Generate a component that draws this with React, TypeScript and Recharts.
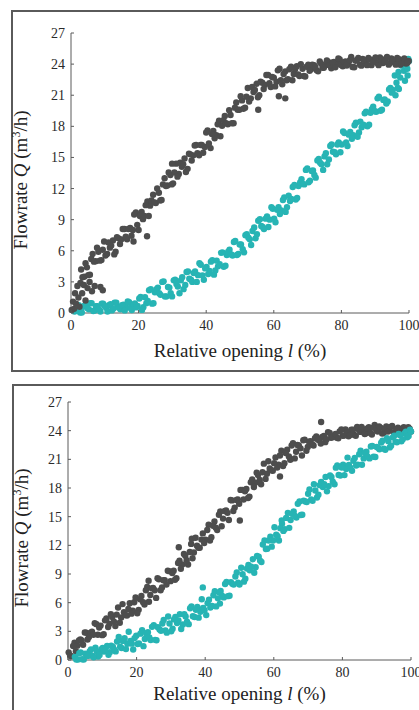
import React from 'react';
import { ScatterChart, Scatter, XAxis, YAxis } from 'recharts';

const openingTicks = [0, 20, 40, 60, 80, 100];
const flowTicks = [0, 3, 6, 9, 12, 15, 18, 21, 24, 27];

// Top panel – dark (upper) series [opening %, flowrate m3/h]
const topDark: [number, number][] = [
  [0.2, 0.3], [0.6, 1.1], [0.9, 0.4], [1.2, 1.9], [1.5, 0.9], [1.9, 2.6], [2.2, 1.5], [2.5, 0.6], [2.8, 2.9],
  [3.3, 1.9], [3.8, 2.7], [4.3, 1.2], [4.9, 2.4], [5.5, 3.0], [6.2, 2.1], [7.0, 2.6], [8.7, 2.5], [9.4, 2.2],
  [3.0, 4.2], [3.9, 3.5], [4.7, 4.4], [5.6, 3.7], [6.4, 5.7], [7.3, 5.0], [8.1, 5.9], [9.0, 5.1], [9.8, 6.9],
  [10.7, 5.7], [11.5, 6.3], [12.4, 7.0], [13.2, 5.9], [14.1, 7.2], [14.9, 7.1], [15.8, 8.1], [16.6, 7.1],
  [17.5, 8.2], [18.3, 8.0], [19.2, 9.7], [20.0, 8.0], [20.9, 9.75], [21.7, 9.35], [22.6, 10.75], [23.4, 10.35],
  [24.3, 11.4], [25.1, 10.6], [26.0, 11.6], [26.8, 10.9], [27.7, 13.0], [28.5, 12.3], [29.4, 13.3], [30.2, 12.5],
  [31.1, 14.4], [31.9, 13.4], [32.8, 14.1], [33.6, 14.9], [34.5, 13.9], [35.3, 15.3], [36.2, 15.2], [37.0, 16.2],
  [37.9, 15.2], [38.7, 16.2], [39.6, 16.0], [40.4, 17.6], [41.3, 15.9], [42.1, 17.55], [43.0, 17.15], [43.8, 18.55],
  [44.7, 18.05], [45.5, 19.0], [46.4, 18.2], [47.2, 19.1], [48.1, 18.3], [48.9, 20.3], [49.8, 19.6], [50.6, 20.5],
  [51.5, 19.8], [52.3, 21.7], [53.2, 20.7], [54.0, 21.3], [54.9, 22.1], [55.7, 21.0], [56.6, 22.2], [57.4, 22.0],
  [58.3, 22.95], [59.1, 21.8], [60.0, 22.7], [60.8, 22.3], [61.7, 23.55], [62.5, 22.05], [63.4, 23.3], [64.2, 22.55],
  [65.1, 23.75], [65.9, 23.05], [66.8, 23.8], [67.6, 22.85], [68.5, 23.55], [69.3, 22.8], [70.2, 23.95], [71.0, 23.5],
  [71.9, 23.9], [72.7, 23.4], [73.6, 24.25], [74.4, 23.65], [75.3, 23.9], [76.1, 24.2], [77.0, 23.6], [77.8, 24.2],
  [78.7, 24.0], [79.5, 24.45], [80.4, 23.8], [81.2, 24.25], [82.1, 24.0], [82.9, 24.7], [83.8, 23.7], [84.6, 24.4],
  [85.5, 23.95], [86.3, 24.5], [87.2, 24.1], [88.0, 24.6], [88.9, 23.9], [89.7, 24.45], [90.6, 24.1], [91.4, 24.65],
  [92.3, 24.1], [93.1, 24.5], [94.0, 23.95], [94.8, 24.55], [95.7, 24.2], [96.5, 24.6], [97.4, 23.95], [98.2, 24.4],
  [99.1, 24.05], [99.9, 24.3],
  [22.5, 7.4], [29.9, 14.4], [55.4, 19.6], [63.4, 20.7], [61.5, 20.9], [18.5, 6.9],
  [3.4, 3.45], [4.3, 4.8], [5.1, 3.65], [6.0, 5.2], [6.8, 4.95], [7.7, 6.3], [8.5, 5.05], [9.4, 6.1], [10.2, 5.55],
  [11.1, 6.8], [11.9, 6.5], [12.8, 5.65], [13.6, 7.3], [14.5, 6.65], [15.3, 8.1], [16.2, 7.35], [17.0, 8.1],
  [17.9, 7.45], [18.7, 9.5], [19.6, 8.5], [20.4, 9.35], [21.3, 9.05], [22.1, 10.4], [23.0, 9.35], [23.8, 10.85],
  [24.7, 10.65], [25.5, 12.0], [26.4, 10.85], [27.2, 12.4], [28.1, 12.25], [28.9, 13.55], [29.8, 12.4], [30.6, 13.55],
  [31.5, 13.15], [32.3, 14.5], [33.2, 14.35], [34.0, 13.6], [34.9, 15.35], [35.7, 14.7], [36.6, 16.15], [37.4, 15.4],
  [38.3, 16.2], [39.1, 15.45], [40.0, 17.4], [40.8, 16.35], [41.7, 17.25], [42.5, 16.85], [43.4, 18.2], [44.2, 17.05],
  [45.1, 18.6], [45.9, 18.3], [46.8, 19.55], [47.6, 18.3], [48.5, 19.8], [49.3, 19.6], [50.2, 20.9], [51.0, 19.7],
  [51.9, 20.85], [52.7, 20.4], [53.6, 21.8], [54.4, 21.5], [55.3, 20.8], [56.1, 22.3], [57.0, 21.6], [57.8, 22.95],
  [58.7, 22.15], [59.5, 22.75], [60.4, 21.85], [61.2, 23.4], [62.1, 22.45], [62.9, 23.05], [63.8, 22.45], [64.6, 23.5],
  [65.5, 22.45], [66.3, 23.5], [67.2, 23.0], [68.0, 24.0], [68.9, 22.85], [69.7, 23.75], [70.6, 23.35], [71.4, 23.95],
  [72.3, 23.75], [73.1, 23.3], [74.0, 24.05], [74.8, 23.65], [75.7, 24.35], [76.5, 23.9], [77.4, 24.15], [78.2, 23.7],
  [79.1, 24.55], [79.9, 23.92], [80.8, 24.18], [81.6, 23.87], [82.5, 24.37], [83.3, 23.72], [84.2, 24.32], [85.0, 24.6],
  [85.9, 23.85], [86.7, 24.4], [87.6, 23.9], [88.4, 24.45], [89.3, 24.2], [90.1, 24.65], [91.0, 23.9], [91.8, 24.45],
  [92.7, 24.2], [93.5, 24.7], [94.4, 24.1], [95.2, 24.35], [96.1, 23.95], [96.9, 24.5], [97.8, 24.05], [98.6, 24.55],
  [99.5, 24.1],
];

// Top panel – teal (lower) series
const topTeal: [number, number][] = [
  [1.0, 0.15], [1.9, 0.75], [2.7, 0.05], [3.6, 0.6], [4.4, 0.75], [5.3, 0.35], [6.1, 0.95], [7.0, 0.25], [7.8, 0.65],
  [8.7, 0.15], [9.5, 0.9], [10.4, 0.5], [11.2, 0.75], [12.1, 0.25], [12.9, 1.0], [13.8, 0.6], [14.6, 0.35], [15.5, 0.8],
  [16.3, 0.55], [17.2, 1.03], [18.0, 0.28], [18.9, 0.92], [19.7, 0.67], [20.6, 1.55], [21.4, 0.55], [22.3, 0.95],
  [23.1, 2.2], [24.0, 0.9], [24.8, 2.0], [25.7, 2.45], [26.5, 1.75], [27.4, 3.05], [28.2, 1.6], [29.1, 2.45], [29.9, 1.6],
  [30.8, 3.2], [31.6, 2.55], [32.5, 3.15], [33.3, 2.3], [34.2, 3.95], [35.0, 3.3], [35.9, 3.0], [36.7, 4.0], [37.6, 3.65],
  [38.4, 4.65], [39.3, 3.2], [40.1, 4.45], [41.0, 4.05], [41.8, 5.1], [42.7, 4.1], [43.5, 4.5], [44.4, 5.8], [45.2, 4.45],
  [46.1, 5.6], [46.9, 6.1], [47.8, 5.55], [48.6, 6.95], [49.5, 5.7], [50.3, 6.6], [51.2, 5.85], [52.0, 7.6], [52.9, 7.1],
  [53.7, 7.9], [54.6, 7.2], [55.4, 8.9], [56.3, 8.4], [57.1, 8.1], [58.0, 9.3], [58.8, 9.0], [59.7, 10.05], [60.5, 8.75],
  [61.4, 10.2], [62.2, 9.9], [63.1, 11.15], [63.9, 10.2], [64.8, 10.8], [65.6, 12.15], [66.5, 10.95], [67.3, 12.25],
  [68.2, 12.9], [69.0, 12.4], [69.9, 13.95], [70.7, 12.75], [71.6, 13.75], [72.4, 13.05], [73.3, 14.85], [74.1, 14.35],
  [75.0, 15.1], [75.8, 14.35], [76.7, 16.1], [77.5, 15.55], [78.4, 15.3], [79.2, 16.45], [80.1, 16.25], [80.9, 17.35],
  [81.8, 16.1], [82.6, 17.45], [83.5, 17.15], [84.3, 18.35], [85.2, 17.4], [86.0, 17.9], [86.9, 19.25], [87.7, 18.0],
  [88.6, 19.3], [89.4, 19.9], [90.3, 19.4], [91.1, 20.85], [92.0, 19.6], [92.8, 20.6], [93.7, 20.4], [94.5, 21.7],
  [95.2, 21.5], [95.8, 22.9], [96.3, 22.2], [96.9, 23.25], [97.4, 22.7], [97.9, 23.85], [98.5, 23.35], [99.0, 24.1],
  [99.5, 23.55], [100.0, 24.3],
  [98.8, 22.4], [99.6, 22.9], [97.0, 21.6], [99.8, 24.5], [96.0, 21.0], [96.7, 21.7],
  [1.4, 0.2], [2.3, 0.75], [3.2, 0.05], [4.0, 0.7], [4.9, 0.45], [5.7, 0.95], [6.6, 0.2], [7.4, 0.65], [8.3, 0.35],
  [9.1, 0.9], [10.0, 0.65], [10.8, 0.15], [11.7, 0.85], [12.5, 0.4], [13.4, 1.0], [14.2, 0.5], [15.1, 0.75], [15.9, 0.25],
  [16.8, 1.12], [17.6, 0.49], [18.5, 0.83], [19.3, 0.54], [20.2, 1.4], [21.0, 0.3], [21.9, 1.53], [22.7, 1.15],
  [23.6, 2.3], [24.4, 0.95], [25.3, 2.3], [26.1, 1.9], [27.0, 3.0], [27.8, 1.6], [28.7, 2.5], [29.5, 1.92], [30.4, 3.15],
  [31.2, 2.8], [32.1, 1.9], [32.9, 3.45], [33.8, 2.7], [34.6, 4.0], [35.5, 3.2], [36.3, 3.85], [37.2, 3.0], [38.0, 4.8],
  [38.9, 3.63], [39.7, 4.3], [40.6, 3.75], [41.4, 4.95], [42.3, 3.7], [43.1, 5.05], [44.0, 4.7], [44.8, 5.85],
  [45.7, 4.55], [46.5, 5.9], [47.4, 5.65], [48.2, 6.85], [49.1, 5.6], [49.9, 6.6], [50.8, 6.15], [51.6, 7.5],
  [52.5, 7.25], [53.3, 6.55], [54.2, 8.25], [55.0, 7.6], [55.9, 9.05], [56.7, 8.3], [57.6, 9.1], [58.4, 8.3],
  [59.3, 10.2], [60.1, 9.1], [61.0, 9.95], [61.8, 9.55], [62.7, 10.9], [63.5, 9.75], [64.4, 11.3], [65.2, 11.0],
  [66.1, 12.35], [66.9, 11.1], [67.8, 12.6], [68.6, 12.45], [69.5, 13.8], [70.3, 12.6], [71.2, 13.7], [72.0, 13.3],
  [72.9, 14.7], [73.7, 14.5], [74.6, 13.8], [75.4, 15.4], [76.3, 14.8], [77.1, 16.25], [78.0, 15.5], [78.8, 16.25],
  [79.7, 15.5], [80.5, 17.5], [81.4, 16.45], [82.2, 17.2], [83.1, 16.8], [83.9, 18.1], [84.8, 17.0], [85.6, 18.45],
  [86.5, 18.15], [87.3, 19.4], [88.2, 18.15], [89.0, 19.65], [89.9, 19.45], [90.7, 20.7], [91.6, 19.5], [92.4, 20.55],
  [93.3, 20.2], [94.1, 21.55], [94.9, 21.25],
];

// Bottom panel – dark (upper) series
const bottomDark: [number, number][] = [
  [0.2, 0.8], [1.0, 0.4], [1.9, 1.8], [2.7, 1.5], [3.6, 2.15], [4.4, 1.6], [5.3, 2.85], [6.1, 2.4], [7.0, 2.95],
  [7.8, 3.85], [8.7, 2.65], [9.5, 3.6], [10.4, 2.7], [11.2, 4.35], [12.1, 3.8], [12.9, 4.5], [13.8, 3.55], [14.6, 5.5],
  [15.5, 4.45], [16.3, 5.0], [17.2, 4.65], [18.0, 5.95], [18.9, 5.15], [19.7, 6.55], [20.6, 5.25], [21.4, 6.7],
  [22.3, 5.8], [23.1, 7.65], [24.0, 6.8], [24.8, 7.55], [25.7, 6.5], [26.5, 8.45], [27.4, 7.6], [28.2, 8.35],
  [29.1, 9.35], [29.9, 8.25], [30.8, 9.35], [31.6, 8.55], [32.5, 10.4], [33.3, 10.0], [34.2, 10.9], [35.0, 10.0],
  [35.9, 12.15], [36.7, 11.25], [37.6, 11.95], [38.4, 11.75], [39.3, 13.25], [40.1, 12.6], [41.0, 14.15], [41.8, 12.85],
  [42.7, 14.5], [43.5, 13.6], [44.4, 15.55], [45.2, 14.8], [46.1, 15.65], [46.9, 14.65], [47.8, 16.7], [48.6, 15.95],
  [49.5, 16.8], [50.3, 17.8], [51.2, 16.8], [52.0, 17.9], [52.9, 17.1], [53.7, 18.9], [54.6, 18.55], [55.4, 19.35],
  [56.3, 18.4], [57.1, 20.55], [58.0, 19.5], [58.8, 20.05], [59.7, 19.8], [60.5, 21.2], [61.4, 20.45], [62.2, 21.9],
  [63.1, 20.6], [63.9, 22.0], [64.8, 20.95], [65.6, 22.7], [66.5, 21.8], [67.3, 22.45], [68.2, 21.4], [69.0, 23.05],
  [69.9, 22.3], [70.7, 22.9], [71.6, 22.45], [72.4, 23.4], [73.3, 23.0], [74.1, 23.35], [75.0, 22.8], [75.8, 23.85],
  [76.7, 23.25], [77.5, 23.45], [78.4, 23.25], [79.2, 23.93], [80.1, 23.47], [80.9, 24.13], [81.8, 23.42], [82.6, 24.1],
  [83.5, 23.55], [84.3, 24.4], [85.2, 23.87], [86.0, 24.15], [86.9, 23.72], [87.7, 24.35], [88.6, 23.6], [89.4, 24.6],
  [90.3, 23.9], [91.1, 24.3], [92.0, 23.75], [92.8, 24.45], [93.7, 24.05], [94.5, 24.5], [95.4, 23.67], [96.2, 24.3],
  [97.1, 23.77], [97.9, 24.35], [98.8, 23.7], [99.6, 24.2],
  [73.8, 24.9], [61.8, 19.2], [50.1, 14.6], [32.3, 11.8], [36.1, 12.7], [23.5, 8.3],
  [0.6, 0.47], [1.5, 1.47], [2.3, 0.92], [3.2, 2.04], [4.0, 2.05], [4.9, 2.89], [5.7, 2.14], [6.6, 2.87], [7.4, 2.65],
  [8.3, 3.75], [9.1, 3.4], [10.0, 2.6], [10.8, 4.15], [11.7, 3.45], [12.5, 4.8], [13.4, 4.0], [14.2, 4.75], [15.1, 3.9],
  [15.9, 5.85], [16.8, 4.7], [17.6, 5.35], [18.5, 4.85], [19.3, 6.05], [20.2, 4.9], [21.0, 6.35], [21.9, 6.05],
  [22.7, 7.3], [23.6, 6.1], [24.4, 7.5], [25.3, 7.3], [26.1, 8.55], [27.0, 7.3], [27.8, 8.35], [28.7, 7.9], [29.5, 9.3],
  [30.4, 9.1], [31.2, 8.4], [32.1, 10.15], [32.9, 9.55], [33.8, 11.1], [34.6, 10.45], [35.5, 11.3], [36.3, 10.65],
  [37.2, 12.8], [38.0, 11.75], [38.9, 12.6], [39.7, 12.25], [40.6, 13.6], [41.4, 12.5], [42.3, 14.05], [43.1, 13.85],
  [44.0, 15.2], [44.8, 14.0], [45.7, 15.6], [46.5, 15.4], [47.4, 16.75], [48.2, 15.6], [49.1, 16.75], [49.9, 16.35],
  [50.8, 17.8], [51.6, 17.65], [52.5, 16.95], [53.3, 18.6], [54.2, 18.1], [55.0, 19.6], [55.9, 18.85], [56.7, 19.65],
  [57.6, 18.95], [58.4, 20.8], [59.3, 19.85], [60.1, 20.6], [61.0, 20.15], [61.8, 21.4], [62.7, 20.3], [63.5, 21.65],
  [64.4, 21.3], [65.2, 22.45], [66.1, 21.1], [66.9, 22.5], [67.8, 22.15], [68.6, 23.0], [69.5, 21.9], [70.3, 22.85],
  [71.2, 22.55], [72.0, 23.2], [72.9, 23.05], [73.7, 22.65], [74.6, 23.45], [75.4, 23.1], [76.3, 23.75], [77.1, 23.32],
  [78.0, 23.65], [78.8, 23.2], [79.7, 24.12], [80.5, 23.5], [81.4, 23.83], [82.2, 23.54], [83.1, 24.1], [83.9, 23.46],
  [84.8, 24.09], [85.6, 24.4], [86.5, 23.65], [87.3, 24.23], [88.2, 23.75], [89.0, 24.32], [89.9, 24.05], [90.7, 24.45],
  [91.6, 23.7], [92.4, 24.2], [93.3, 23.9], [94.1, 24.4], [95.0, 23.83], [95.8, 24.11], [96.7, 23.68], [97.5, 24.21],
  [98.4, 23.8], [99.2, 24.35], [100.0, 23.9],
];

// Bottom panel – teal (lower) series
const bottomTeal: [number, number][] = [
  [2.0, 0.33], [2.9, 0.05], [3.7, 0.8], [4.6, 0.05], [5.4, 0.51], [6.3, 0.89], [7.1, 0.42], [8.0, 1.3], [8.8, 0.36],
  [9.7, 1.11], [10.5, 0.89], [11.4, 1.47], [12.2, 0.82], [13.1, 1.37], [13.9, 0.9], [14.8, 2.4], [15.6, 1.25],
  [16.5, 2.27], [17.3, 1.7], [18.2, 2.0], [19.0, 1.1], [19.9, 2.55], [20.7, 1.72], [21.6, 3.11], [22.4, 2.2], [23.3, 2.9],
  [24.1, 2.1], [25.0, 3.65], [25.8, 2.07], [26.7, 3.2], [27.5, 3.82], [28.4, 3.08], [29.2, 4.55], [30.1, 3.0],
  [30.9, 4.25], [31.8, 3.87], [32.6, 4.8], [33.5, 3.72], [34.3, 4.55], [35.2, 3.75], [36.0, 5.6], [36.9, 4.5],
  [37.7, 5.55], [38.6, 5.05], [39.4, 5.45], [40.3, 4.7], [41.1, 6.3], [42.0, 5.65], [42.8, 7.2], [43.7, 6.45],
  [44.5, 7.22], [45.4, 6.55], [46.2, 8.16], [47.1, 6.73], [47.9, 7.97], [48.8, 8.74], [49.6, 8.08], [50.5, 9.65],
  [51.3, 8.2], [52.2, 9.58], [53.0, 9.4], [53.9, 10.55], [54.7, 9.7], [55.6, 10.8], [56.4, 10.25], [57.3, 12.5],
  [58.1, 11.65], [59.0, 12.9], [59.8, 12.5], [60.7, 13.1], [61.5, 12.5], [62.4, 14.25], [63.2, 13.7], [64.1, 15.4],
  [64.9, 14.65], [65.8, 15.55], [66.6, 14.9], [67.5, 16.6], [68.3, 15.2], [69.2, 16.6], [70.0, 17.4], [70.9, 16.8],
  [71.7, 18.4], [72.6, 17.0], [73.4, 18.3], [74.3, 18.1], [75.1, 19.15], [76.0, 18.2], [76.8, 19.15], [77.7, 18.4],
  [78.5, 20.35], [79.4, 19.3], [80.2, 20.45], [81.1, 20.0], [81.9, 20.4], [82.8, 19.8], [83.6, 21.15], [84.5, 20.45],
  [85.3, 21.9], [86.2, 21.1], [87.0, 21.8], [87.9, 21.1], [88.7, 22.4], [89.6, 21.25], [90.4, 22.2], [91.3, 22.75],
  [92.1, 22.1], [93.0, 23.2], [93.8, 22.25], [94.7, 23.3], [95.5, 22.85], [96.4, 23.65], [97.2, 22.9], [98.1, 23.7],
  [98.9, 23.3], [99.7, 24.1],
  [39.3, 7.6], [44.3, 5.9], [62.3, 14.6],
  [2.4, 0.05], [3.3, 0.7], [4.1, 0.08], [5.0, 0.67], [5.8, 0.43], [6.7, 1.11], [7.5, 0.29], [8.4, 0.86], [9.2, 0.52],
  [10.1, 1.27], [10.9, 1.05], [11.8, 0.54], [12.6, 1.49], [13.5, 1.09], [14.3, 1.93], [15.2, 1.38], [16.0, 2.0],
  [16.9, 1.14], [17.7, 2.96], [18.6, 1.71], [19.4, 2.29], [20.3, 1.68], [21.1, 2.76], [22.0, 1.45], [22.8, 2.77],
  [23.7, 2.35], [24.5, 3.47], [25.4, 2.11], [26.2, 3.43], [27.1, 3.06], [27.9, 4.18], [28.8, 2.86], [29.6, 3.82],
  [30.5, 3.27], [31.3, 4.5], [32.2, 4.13], [33.0, 3.25], [33.9, 4.78], [34.7, 4.0], [35.6, 5.42], [36.4, 4.58],
  [37.3, 5.26], [38.1, 4.43], [39.0, 6.35], [39.8, 5.2], [40.7, 5.95], [41.5, 5.5], [42.4, 6.77], [43.2, 5.61],
  [44.1, 7.07], [44.9, 6.72], [45.8, 7.95], [46.6, 6.68], [47.5, 8.15], [48.3, 7.89], [49.2, 9.16], [50.0, 7.9],
  [50.9, 8.97], [51.7, 8.5], [52.6, 9.94], [53.4, 9.76], [54.3, 9.13], [55.1, 10.9], [56.0, 10.4], [56.8, 12.08],
  [57.7, 11.62], [58.5, 12.5], [59.4, 11.86], [60.2, 13.89], [61.1, 12.95], [61.9, 13.8], [62.8, 13.51], [63.6, 14.87],
  [64.5, 13.83], [65.3, 15.3], [66.2, 15.07], [67.0, 16.35], [67.9, 15.17], [68.7, 16.68], [69.6, 16.54], [70.4, 17.84],
  [71.3, 16.66], [72.1, 17.74], [73.0, 17.3], [73.8, 18.64], [74.7, 18.41], [75.5, 17.65], [76.4, 19.32], [77.2, 18.66],
  [78.1, 20.13], [78.9, 19.37], [79.8, 20.14], [80.6, 19.35], [81.5, 21.18], [82.3, 20.13], [83.2, 20.85], [84.0, 20.35],
  [84.9, 21.53], [85.7, 20.44], [86.6, 21.67], [87.4, 21.28], [88.3, 22.35], [89.1, 21.27], [90.0, 22.3], [90.8, 22.06],
  [91.7, 22.94], [92.5, 22.0], [93.4, 22.88], [94.2, 22.43], [95.1, 23.47], [95.9, 22.79], [96.8, 23.52], [97.6, 23.09],
  [98.5, 23.88], [99.3, 23.44], [100.0, 23.9],
];

const DARK = '#4d4d4d';
const TEAL = '#27b4b4';
const AXIS = '#5a5a5a';
const SERIF = '"Liberation Serif", "Times New Roman", serif';

const toPoints = (arr: [number, number][]) => arr.map(([x, y]) => ({ x, y }));

const dot = (color: string) => (p: any) => <circle cx={p.cx} cy={p.cy} r={3.2} fill={color} />;

const XTick = (props: any) => {
  const { x, y, payload } = props;
  return (
    <g>
      <line x1={x} y1={y} x2={x} y2={y - 3} stroke={AXIS} strokeWidth={1} />
      <text x={x} y={y + 17} textAnchor="middle" fontFamily={SERIF} fontSize={14} fill="#2a2a2a">
        {payload.value}
      </text>
    </g>
  );
};

const YTick = (props: any) => {
  const { x, y, payload } = props;
  return (
    <g>
      <line x1={x} y1={y} x2={x + 3} y2={y} stroke={AXIS} strokeWidth={1} />
      <text x={x - 6} y={y + 5} textAnchor="end" fontFamily={SERIF} fontSize={14} fill="#2a2a2a">
        {payload.value}
      </text>
    </g>
  );
};

const xLabel = (dx: number, dy: number) => (props: any) => {
  const vb = props.viewBox || { x: 0, y: 0, width: 0, height: 0 };
  return (
    <text x={vb.x + vb.width / 2 + dx} y={vb.y + dy} textAnchor="middle" fontFamily={SERIF} fontSize={19} fill="#222">
      Relative opening <tspan fontStyle="italic">l</tspan> (%)
    </text>
  );
};

const yLabel = (cx: number, dy: number) => (props: any) => {
  const vb = props.viewBox || { x: 0, y: 0, width: 0, height: 0 };
  const cy = vb.y + vb.height / 2 + dy;
  return (
    <text x={cx} y={cy} textAnchor="middle" fontFamily={SERIF} fontSize={19} fill="#222" transform={`rotate(-90 ${cx} ${cy})`}>
      Flowrate <tspan fontStyle="italic">Q</tspan> (m<tspan dy={-7} fontSize={12}>3</tspan><tspan dy={7}>/h)</tspan>
    </text>
  );
};

type PanelProps = {
  dark: [number, number][];
  teal: [number, number][];
  width: number;
  height: number;
  margin: { top: number; right: number; bottom: number; left: number };
  darkFirst: boolean;
  xlab: [number, number];
  ylab: [number, number];
};

const Panel = ({ dark, teal, width, height, margin, darkFirst, xlab, ylab }: PanelProps) => {
  const darkS = <Scatter key="d" data={toPoints(dark)} fill={DARK} shape={dot(DARK)} isAnimationActive={false} />;
  const tealS = <Scatter key="t" data={toPoints(teal)} fill={TEAL} shape={dot(TEAL)} isAnimationActive={false} />;
  return (
    <ScatterChart width={width} height={height} margin={margin}>
      <XAxis
        type="number"
        dataKey="x"
        domain={[0, 100]}
        ticks={openingTicks}
        height={2}
        tickSize={0}
        tickMargin={0}
        tick={<XTick />}
        stroke={AXIS}
        interval={0}
        label={{ content: xLabel(xlab[0], xlab[1]) } as any}
      />
      <YAxis
        type="number"
        dataKey="y"
        domain={[0, 27]}
        ticks={flowTicks}
        width={2}
        tickSize={0}
        tickMargin={0}
        tick={<YTick />}
        stroke={AXIS}
        interval={0}
        label={{ content: yLabel(ylab[0], ylab[1]) } as any}
      />
      {darkFirst ? [darkS, tealS] : [tealS, darkS]}
    </ScatterChart>
  );
};

export default function App() {
  return (
    <div style={{ position: 'fixed', left: 0, top: 0, width: 419, height: 710, overflow: 'hidden', background: '#fff' }}>
      <div style={{ position: 'absolute', left: 11, top: 10, width: 440, height: 362, border: '2px solid #5a5a5a', boxSizing: 'border-box' }} />
      <div style={{ position: 'absolute', left: 12, top: 384, width: 440, height: 400, border: '2px solid #5a5a5a', boxSizing: 'border-box' }} />
      <div style={{ position: 'absolute', left: 0, top: 0 }}>
        <Panel
          dark={topDark}
          teal={topTeal}
          width={430}
          height={372}
          margin={{ top: 33, right: 21, left: 69, bottom: 57 }}
          darkFirst={false}
          xlab={[0, 44]}
          ylab={[27, 7]}
        />
      </div>
      <div style={{ position: 'absolute', left: 0, top: 372 }}>
        <Panel
          dark={bottomDark}
          teal={bottomTeal}
          width={430}
          height={338}
          margin={{ top: 30, right: 19, left: 66, bottom: 48 }}
          darkFirst={true}
          xlab={[0, 40]}
          ylab={[28, 7]}
        />
      </div>
    </div>
  );
}
